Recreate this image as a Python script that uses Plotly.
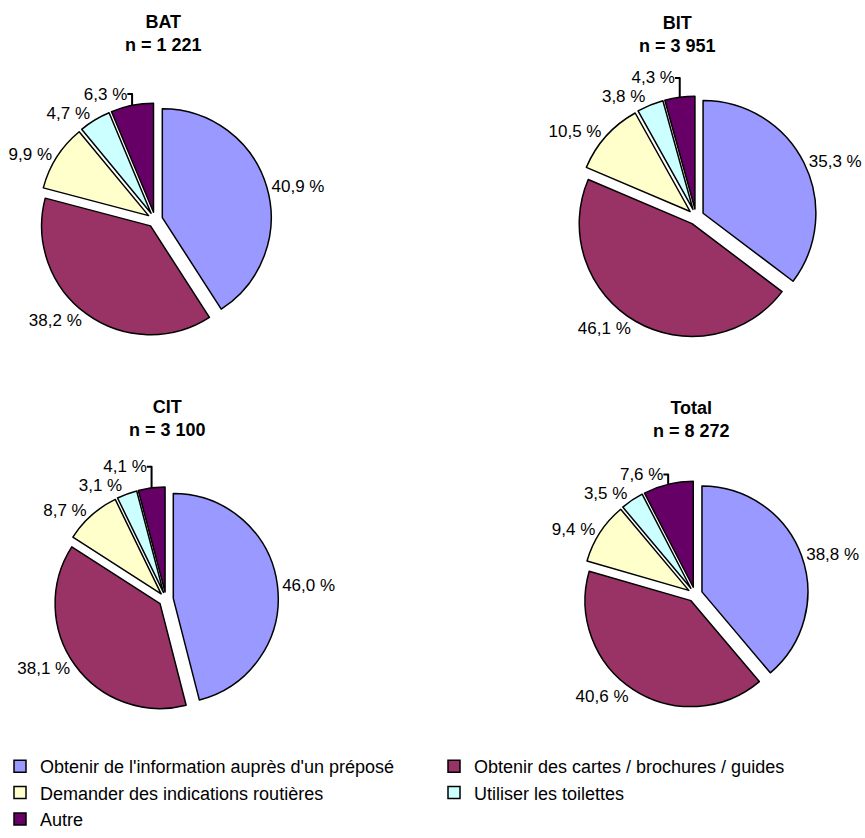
import plotly.graph_objects as go

W, H = 865, 838

categories = [
    "Obtenir de l'information auprès d'un préposé",
    "Obtenir des cartes / brochures / guides",
    "Demander des indications routières",
    "Utiliser les toilettes",
    "Autre",
]
colors = ["#9999FF", "#993366", "#FFFFCC", "#CCFFFF", "#660066"]

groups = ["BAT", "BIT", "CIT", "Total"]
n_values = ["1 221", "3 951", "3 100", "8 272"]
bat = [40.9, 38.2, 9.9, 4.7, 6.3]
bit = [35.3, 46.1, 10.5, 3.8, 4.3]
cit = [46.0, 38.1, 8.7, 3.1, 4.1]
total = [38.8, 40.6, 9.4, 3.5, 7.6]
series = [bat, bit, cit, total]

# layout (pixel) positions: pie centre, radius, title centre
PULL = 0.07
pie_geo = [
    (155, 224, 111, 163, 34),
    (696, 221, 115, 677, 35),
    (166, 611, 107, 167, 427),
    (695, 606, 108, 691, 428),
]

FONT = "Liberation Sans, Arial, sans-serif"

fig = go.Figure()
annotations = []
for g, nval, vals, (cx, cy, r, tx, ty) in zip(groups, n_values, series, pie_geo):
    half = r * (1 + PULL)
    dom_x = [(cx - half) / W, (cx + half) / W]
    dom_y = [1 - (cy + half) / H, 1 - (cy - half) / H]
    texts = [f"{v:.1f}".replace(".", ",") + " %" for v in vals]
    fig.add_trace(go.Pie(
        labels=categories,
        values=vals,
        text=texts,
        textinfo="text",
        textposition="outside",
        textfont=dict(family=FONT, size=17, color="black"),
        sort=False,
        direction="clockwise",
        rotation=0,
        pull=[PULL] * len(vals),
        marker=dict(colors=colors, line=dict(color="black", width=1.5)),
        domain=dict(x=dom_x, y=dom_y),
        hoverinfo="label+text",
        automargin=False,
    ))
    annotations.append(dict(
        x=tx / W, y=1 - ty / H, xref="paper", yref="paper",
        text=f"<b>{g}</b><br><b>n = {nval}</b>",
        showarrow=False, xanchor="center", yanchor="middle",
        font=dict(family=FONT, size=18, color="black"),
    ))

fig.update_layout(
    width=W, height=H,
    margin=dict(l=0, r=0, t=0, b=0),
    paper_bgcolor="white",
    plot_bgcolor="white",
    annotations=annotations,
    showlegend=True,
    legend=dict(
        orientation="h",
        x=0.0, xanchor="left",
        y=1 - 763 / H, yanchor="top",
        entrywidth=389, entrywidthmode="pixels",
        font=dict(family=FONT, size=18, color="black"),
        traceorder="normal",
        bgcolor="rgba(0,0,0,0)",
    ),
)

fig.write_html(
    "out.html",
    config={"displayModeBar": False},
    post_script="document.body.style.margin='0px';document.body.style.overflow='hidden';",
)
